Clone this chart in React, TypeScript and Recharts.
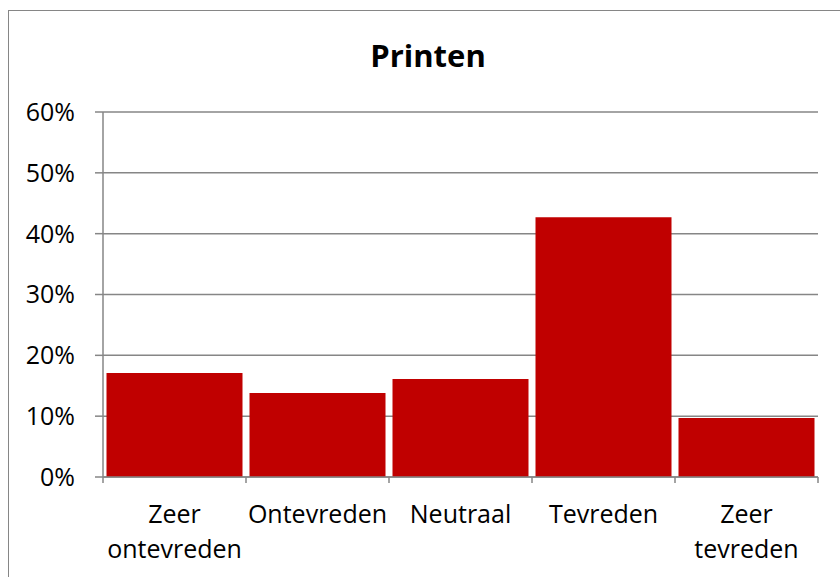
import React from 'react';
import { BarChart, Bar, XAxis, YAxis, CartesianGrid } from 'recharts';

const categories = ['Zeer ontevreden', 'Ontevreden', 'Neutraal', 'Tevreden', 'Zeer tevreden'];
const shares = [17.1, 13.8, 16.1, 42.7, 9.7];
const yTicks = [0, 10, 20, 30, 40, 50, 60];

const data = categories.map((name, i) => ({ name, value: shares[i] }));

const FONT = '"Open Sans", sans-serif';
const AXIS_GREY = '#868686';

// Excel-style category tick: marks at band edges, long labels wrapped on spaces
const CategoryTick = (props: any) => {
  const { x, y, payload, index } = props;
  const half = payload.offset ?? 71.5;
  const lines = String(payload.value).split(' ');
  return (
    <g>
      <line x1={x - half} x2={x - half} y1={y} y2={y + 6} stroke={AXIS_GREY} strokeWidth={1.5} />
      {index === categories.length - 1 && (
        <line x1={x + half} x2={x + half} y1={y} y2={y + 6} stroke={AXIS_GREY} strokeWidth={1.5} />
      )}
      <text textAnchor="middle" fontFamily={FONT} fontSize={25} fill="#000">
        {lines.map((l, i) => (
          <tspan key={i} x={x} y={y + 46 + i * 35}>
            {l}
          </tspan>
        ))}
      </text>
    </g>
  );
};

const App: React.FC = () => {
  return (
    <div
      style={{
        position: 'fixed',
        left: 8,
        top: 10,
        width: 840,
        height: 577,
        borderLeft: `1.5px solid ${AXIS_GREY}`,
        borderTop: `1.5px solid ${AXIS_GREY}`,
        background: '#fff',
      }}
    >
      <div
        style={{
          position: 'absolute',
          left: 0,
          top: 24,
          width: 838,
          textAlign: 'center',
          fontFamily: FONT,
          fontWeight: 700,
          fontSize: 31,
          lineHeight: '40px',
          color: '#000',
        }}
      >
        Printen
      </div>
      <BarChart
        width={831}
        height={566}
        data={data}
        margin={{ top: 101, right: 22, left: 0, bottom: 0 }}
        barCategoryGap={3.5}
      >
        <CartesianGrid vertical={false} stroke={AXIS_GREY} strokeWidth={1.5} />
        <YAxis
          width={94}
          domain={[0, 60]}
          ticks={yTicks}
          interval={0}
          tickFormatter={(v: number) => `${v}%`}
          axisLine={{ stroke: AXIS_GREY, strokeWidth: 1.5 }}
          tickLine={{ stroke: AXIS_GREY, strokeWidth: 1.5 }}
          tickSize={8}
          tickMargin={20}
          tick={{ fill: '#000', fontSize: 25, fontFamily: FONT }}
        />
        <XAxis
          dataKey="name"
          height={100}
          interval={0}
          axisLine={{ stroke: AXIS_GREY, strokeWidth: 1.5 }}
          tickLine={false}
          tickSize={0}
          tickMargin={0}
          tick={<CategoryTick />}
        />
        <Bar dataKey="value" fill="#C00000" isAnimationActive={false} />
      </BarChart>
    </div>
  );
};

export default App;
